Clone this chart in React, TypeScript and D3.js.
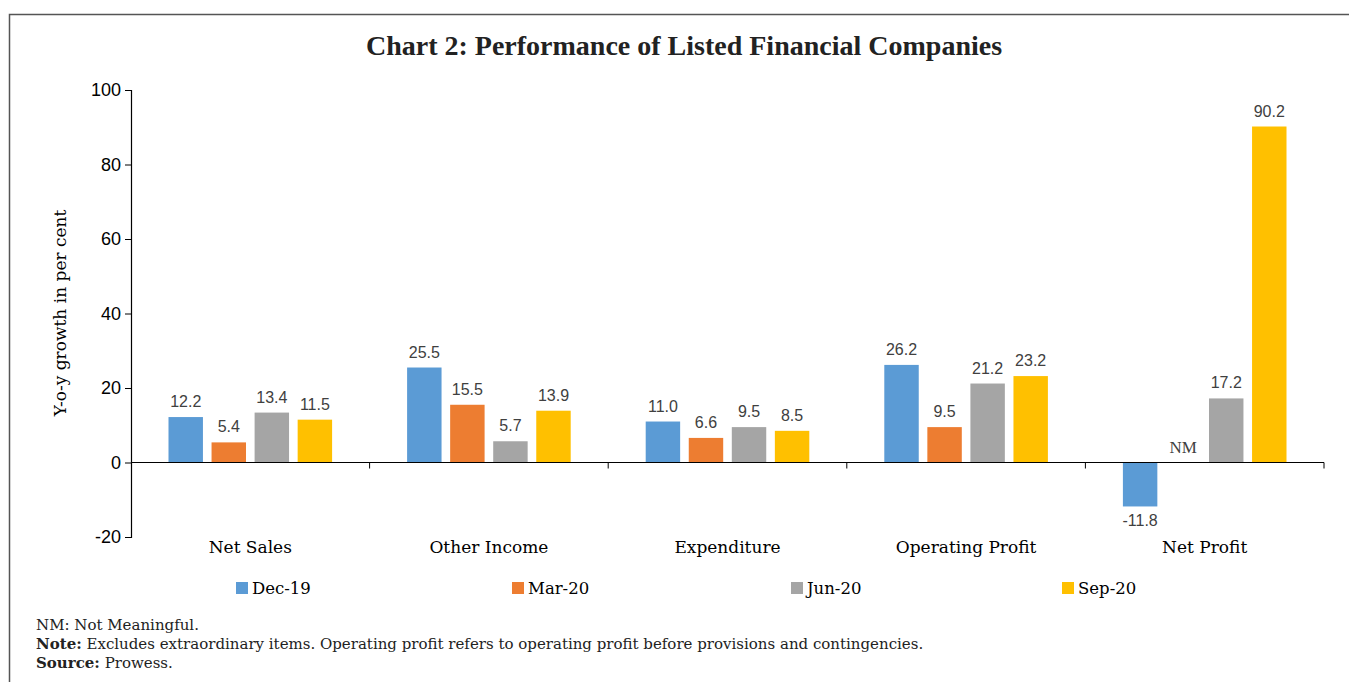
import React, { useRef, useEffect } from "react";
import * as d3 from "d3";

const categories = ["Net Sales", "Other Income", "Expenditure", "Operating Profit", "Net Profit"];
const seriesNames = ["Dec-19", "Mar-20", "Jun-20", "Sep-20"];
const seriesColors = ["#5B9BD5", "#ED7D31", "#A5A5A5", "#FFC000"];

const dec19 = [12.2, 25.5, 11.0, 26.2, -11.8];
const mar20 = [5.4, 15.5, 6.6, 9.5, null];
const jun20 = [13.4, 5.7, 9.5, 21.2, 17.2];
const sep20 = [11.5, 13.9, 8.5, 23.2, 90.2];

const yTicks = [-20, 0, 20, 40, 60, 80, 100];
const legendX = [236, 512, 791, 1062];

const titleFont = "'Liberation Serif', serif";
const serif = "'DejaVu Serif', 'Liberation Serif', serif";
const sans = "'Liberation Sans', Arial, sans-serif";

function App() {
  const svgRef = useRef<SVGSVGElement>(null);

  useEffect(() => {
    const svg = d3.select(svgRef.current);
    svg.selectAll("*").remove();

    const width = 1349;
    const height = 682;
    const left = 131;
    const right = 1324;

    const series = [dec19, mar20, jun20, sep20];
    const rows = categories.map((c, i) => ({
      category: c,
      values: series.map((s, j) => ({ key: seriesNames[j], value: s[i], idx: j }))
    }));

    const x0 = d3.scaleBand().domain(categories).range([left, right]).padding(0);
    const groupPad = 37.5;
    const x1 = d3
      .scaleBand()
      .domain(seriesNames)
      .range([groupPad, x0.bandwidth() - groupPad])
      .paddingInner(0.2);
    const y = d3.scaleLinear().domain([-20, 100]).range([537, 90]);

    // frame
    svg
      .append("rect")
      .attr("x", 9.5)
      .attr("y", 14.5)
      .attr("width", width)
      .attr("height", height)
      .attr("fill", "none")
      .attr("stroke", "#555")
      .attr("stroke-width", 1.5);

    // title
    svg
      .append("text")
      .attr("x", 684)
      .attr("y", 55)
      .attr("text-anchor", "middle")
      .attr("font-family", titleFont)
      .attr("font-weight", "bold")
      .attr("font-size", 28)
      .attr("fill", "#222")
      .text("Chart 2: Performance of Listed Financial Companies");

    // y axis
    const yAxis = svg
      .append("g")
      .attr("transform", `translate(${left},0)`)
      .call(
        d3
          .axisLeft(y)
          .tickValues(yTicks)
          .tickSize(6)
          .tickSizeOuter(6)
          .tickFormat(d => String(d))
      );
    yAxis.select(".domain").attr("stroke", "#000").attr("stroke-width", 1.2);
    yAxis.selectAll(".tick line").attr("stroke", "#000");
    yAxis
      .selectAll(".tick text")
      .attr("font-family", sans)
      .attr("font-size", 18)
      .attr("fill", "#000")
      .attr("x", -10);

    svg
      .append("text")
      .attr("transform", `translate(66,313) rotate(-90)`)
      .attr("text-anchor", "middle")
      .attr("font-family", serif)
      .attr("font-size", 17)
      .attr("fill", "#000")
      .text("Y-o-y growth in per cent");

    // bars
    const groups = svg
      .selectAll(".grp")
      .data(rows)
      .join("g")
      .attr("class", "grp")
      .attr("transform", d => `translate(${x0(d.category)},0)`);

    groups
      .selectAll("rect")
      .data(d => d.values.filter(v => v.value !== null))
      .join("rect")
      .attr("x", d => x1(d.key)!)
      .attr("width", x1.bandwidth())
      .attr("y", d => y(Math.max(0, d.value as number)))
      .attr("height", d => Math.abs(y(d.value as number) - y(0)))
      .attr("fill", d => seriesColors[d.idx]);

    groups
      .selectAll("text.lbl")
      .data(d => d.values)
      .join("text")
      .attr("class", "lbl")
      .attr("x", d => x1(d.key)! + x1.bandwidth() / 2)
      .attr("y", d =>
        d.value === null ? y(0) - 10 : d.value >= 0 ? y(d.value) - 10 : y(d.value) + 20
      )
      .attr("text-anchor", "middle")
      .attr("font-family", d => (d.value === null ? titleFont : sans))
      .attr("font-size", d => (d.value === null ? 17 : 16))
      .attr("fill", "#404040")
      .text(d => (d.value === null ? "NM" : (d.value as number).toFixed(1)));

    // x axis at zero
    svg
      .append("line")
      .attr("x1", left)
      .attr("x2", right)
      .attr("y1", y(0))
      .attr("y2", y(0))
      .attr("stroke", "#000")
      .attr("stroke-width", 1.2);
    const bounds = categories.map(c => x0(c)! + x0.bandwidth());
    svg
      .selectAll(".xtick")
      .data(bounds)
      .join("line")
      .attr("class", "xtick")
      .attr("x1", d => d)
      .attr("x2", d => d)
      .attr("y1", y(0))
      .attr("y2", y(0) + 6)
      .attr("stroke", "#000");

    svg
      .selectAll(".xlab")
      .data(categories)
      .join("text")
      .attr("class", "xlab")
      .attr("x", d => x0(d)! + x0.bandwidth() / 2)
      .attr("y", 553)
      .attr("text-anchor", "middle")
      .attr("font-family", serif)
      .attr("font-size", 17)
      .attr("fill", "#000")
      .text(d => d);

    // legend
    const legend = svg
      .selectAll(".leg")
      .data(seriesNames)
      .join("g")
      .attr("class", "leg")
      .attr("transform", (d, i) => `translate(${legendX[i]},582)`);
    legend
      .append("rect")
      .attr("width", 12)
      .attr("height", 12)
      .attr("fill", (d, i) => seriesColors[i]);
    legend
      .append("text")
      .attr("x", 16)
      .attr("y", 12)
      .attr("font-family", serif)
      .attr("font-size", 16.5)
      .attr("fill", "#000")
      .text(d => d);

    // notes
    const notes = [
      { bold: "", text: "NM: Not Meaningful." },
      { bold: "Note:", text: " Excludes extraordinary items. Operating profit refers to operating profit before provisions and contingencies." },
      { bold: "Source:", text: " Prowess." }
    ];
    notes.forEach((n, i) => {
      const t = svg
        .append("text")
        .attr("x", 36)
        .attr("y", 630 + i * 19)
        .attr("font-family", serif)
        .attr("font-size", 15)
        .attr("fill", "#222");
      if (n.bold) t.append("tspan").attr("font-weight", "bold").text(n.bold);
      t.append("tspan").text(n.text);
    });
  }, []);

  return (
    <svg
      ref={svgRef}
      width={1349}
      height={682}
      style={{ position: "absolute", left: 0, top: 0, background: "#fff" }}
    />
  );
}

export default App;
